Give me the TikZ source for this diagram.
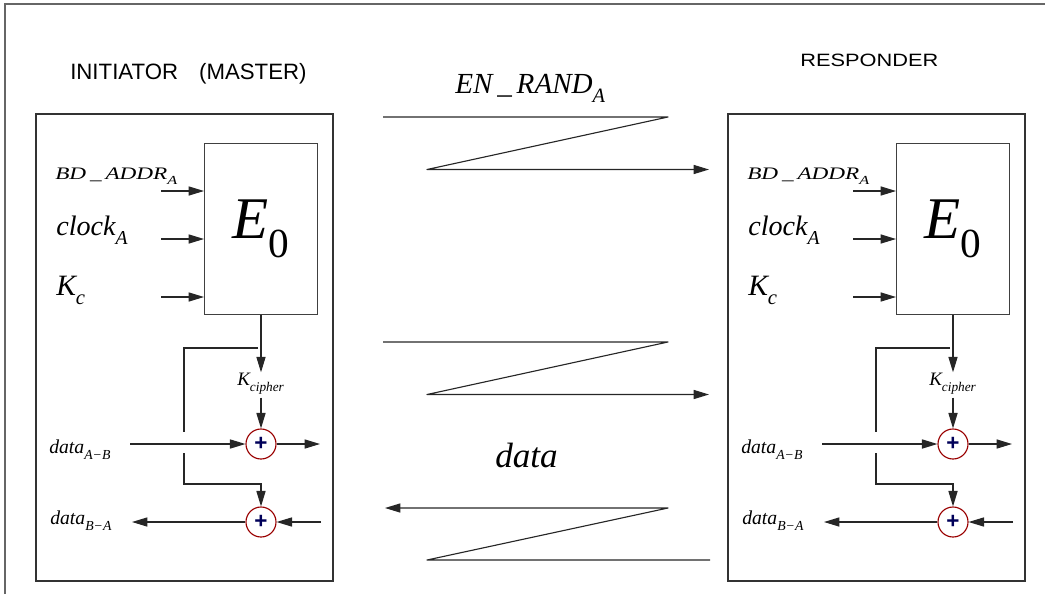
\documentclass[tikz,border=0pt]{standalone}
\usepackage{fontspec}
\setmainfont{Liberation Serif}
\newfontfamily\headfont{Liberation Sans}
\usetikzlibrary{arrows.meta}
\tikzset{>={Triangle[length=11pt,width=6.5pt]}}
\tikzset{
  devframe/.style={draw=black!80, line width=0.8pt},
  cipherbox/.style={draw=black!75, line width=0.7pt, minimum width=2.825cm,
    minimum height=4.25cm, inner sep=0pt},
  xorgate/.style={circle, draw=red!60!black, line width=0.8pt, minimum size=0.75cm,
    inner sep=0pt, text=blue!35!black, font=\headfont\bfseries\fsz{16}},
  lbl/.style={inner sep=0pt, anchor=base west},
  wire/.style={line width=0.8pt, draw=black!85},
}
\newcommand{\fsz}[1]{\fontsize{#1}{#1}\selectfont}
\newcommand{\low}[1]{\raisebox{-0.4ex}{\textsubscript{#1}}}

\begin{document}
\begin{tikzpicture}[x=0.025cm,y=-0.025cm]
  \useasboundingbox (0,0) rectangle (1045,594);
  %% outer frame, only top and left edge show
  \draw[black!60, line width=0.9pt] (5,594) -- (5,4) -- (1045,4);

  %% headings
  \node[lbl, font=\headfont\fsz{15.8}] (ini) at (70,79) {INITIATOR\hspace{0.95em}(MASTER)};
  \node[lbl, font=\headfont\fsz{12.7}] (resp) at (800,66) {\scalebox{1.22}[1]{RESPONDER}};

  %% the two devices
  \foreach \s/\dx in {l/0, r/692} {
  \begin{scope}[shift={(\dx,0)}]
    \draw[devframe] (36,114) rectangle (333,581);

    %% E0
    \node[cipherbox] (\s e0) at (261,229) {\fsz{42}\itshape E\raisebox{-0.15ex}{\textsubscript{\upshape 0}}};
    \node[lbl, font=\itshape\fsz{12.5}] (\s addr) at (55,179) {\scalebox{1.32}[1]{BD\,\_\,ADDR\low{A}}};
    \node[lbl, font=\itshape\fsz{20}] (\s clk) at (56,235) {clock\low{A}};
    \node[lbl, font=\itshape\fsz{21}] (\s kc) at (56,295) {K\low{c}};
    \coordinate (\s ia) at (161,191);
    \coordinate (\s ib) at (161,239);
    \coordinate (\s ic) at (161,297);
    \draw[wire,->] (\s ia) -- (\s ia -| \s e0.west);
    \draw[wire,->] (\s ib) -- (\s ib -| \s e0.west);
    \draw[wire,->] (\s ic) -- (\s ic -| \s e0.west);

    %% key and the two adders
    \node[lbl, font=\itshape\fsz{13.5}] (\s key) at (237,385) {K\low{cipher}};
    \node[xorgate] (\s x1) at (261,444) {+};
    \node[xorgate] (\s x2) at (261,522) {+};
    \draw[wire,->] (\s e0.south) -- (\s e0.south |- \s key.north);
    \draw[wire,->] (\s e0.south |- \s key.south) ++(0,3) -- (\s x1);

    \node[lbl, font=\itshape\fsz{14}] (\s dab) at (49,453) {data\low{A−B}};
    \node[lbl, font=\itshape\fsz{14}] (\s dba) at (50,524) {data\low{B−A}};
    \coordinate (\s din) at (130,444);
    \coordinate (\s dout) at (320,444);
    \coordinate (\s rin) at (321,522);
    \coordinate (\s rout) at (132,522);
    \draw[wire,->] (\s din) -- (\s x1);
    \draw[wire,->] (\s x1) -- (\s dout);
    \draw[wire,->] (\s rin) -- (\s x2);
    \draw[wire,->] (\s x2) -- (\s rout);

    %% key branch to the lower adder
    \coordinate (\s tap) at (258,348);
    \coordinate (\s fa) at (184,432);
    \coordinate (\s fb) at (184,453);
    \coordinate (\s fc) at (184,484);
    \draw[wire] (\s tap) -| (\s fa);
    \draw[wire,->] (\s fb) -- (\s fc) -| (\s x2);
  \end{scope}
  }

  %% messages
  \node[lbl, font=\itshape\fsz{20.7}] (rand) at (455,93) {EN\,\_\,RAND\low{A}};
  \node[lbl, font=\itshape\fsz{25}] (msg) at (495,467) {data};
  \foreach \n/\y in {1/117, 2/342} {
    \coordinate (m\n a) at (383,\y);
    \coordinate (m\n b) at (668,\y);
    \coordinate (m\n c) at (427,\y+52.5);
    \coordinate (m\n d) at (709,\y+52.5);
    \draw[wire,line join=round,->] (m\n a) -- (m\n b) -- (m\n c) -- (m\n d);
  }
  \coordinate (m3a) at (710,560);
  \coordinate (m3b) at (427,560);
  \coordinate (m3c) at (668,508);
  \coordinate (m3d) at (385,508);
  \draw[wire,line join=round,->] (m3a) -- (m3b) -- (m3c) -- (m3d);
\end{tikzpicture}
\end{document}
